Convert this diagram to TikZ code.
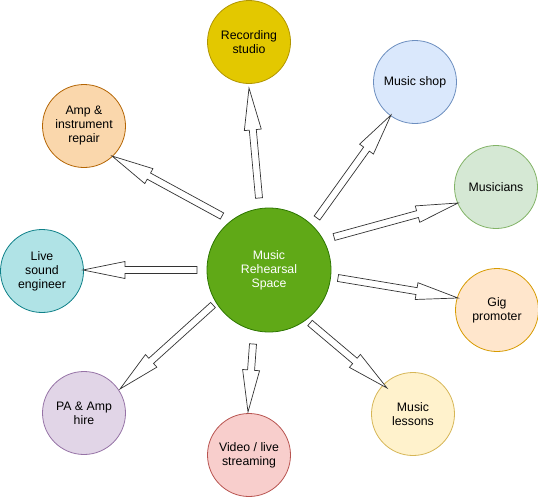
\documentclass[tikz,border=0pt]{standalone}
\usepackage{fontspec}
\setmainfont{Liberation Sans}
\usetikzlibrary{calc}
\definecolor{cFill}{HTML}{60A917}\definecolor{cLine}{HTML}{2D7600}
\definecolor{recF}{HTML}{E3C800}\definecolor{recL}{HTML}{B09500}
\definecolor{shopF}{HTML}{DAE8FC}\definecolor{shopL}{HTML}{6C8EBF}
\definecolor{ampF}{HTML}{FAD7AC}\definecolor{ampL}{HTML}{B46504}
\definecolor{liveF}{HTML}{B0E3E6}\definecolor{liveL}{HTML}{0E8088}
\definecolor{musF}{HTML}{D5E8D4}\definecolor{musL}{HTML}{82B366}
\definecolor{gigF}{HTML}{FFE6CC}\definecolor{gigL}{HTML}{D79B00}
\definecolor{lesF}{HTML}{FFF2CC}\definecolor{lesL}{HTML}{D6B656}
\definecolor{vidF}{HTML}{F8CECC}\definecolor{vidL}{HTML}{B85450}
\definecolor{paF}{HTML}{E1D5E7}\definecolor{paL}{HTML}{9673A6}
\newcommand\blockarr[2]{%
 \draw[barrow] ($(#1)!3.5pt!90:(#2)$) -- ($(#2)!42pt!(#1)!3.5pt!-90:(#1)$) -- ($(#2)!42pt!(#1)!8.5pt!-90:(#1)$) -- (#2) -- ($(#2)!42pt!(#1)!8.5pt!90:(#1)$) -- ($(#2)!42pt!(#1)!3.5pt!90:(#1)$) -- ($(#1)!3.5pt!-90:(#2)$) -- cycle;}
\begin{document}
\begin{tikzpicture}[x=1pt,y=-1pt,
  bubble/.style={circle,minimum size=83pt,inner sep=0pt,line width=0.8pt,align=center,font=\fontsize{12.3}{14}\selectfont,text=black},
  barrow/.style={draw=black!80,fill=white,line width=0.7pt,line join=miter}]
\useasboundingbox (0,0) rectangle (538,498);
\node[bubble,minimum size=124pt,fill=cFill,draw=cLine,text=white] (c) at (269,270) {Music\\Rehearsal\\Space};
\node[bubble,fill=recF,draw=recL] (rec) at (249,42) {Recording\\studio};
\node[bubble,fill=shopF,draw=shopL] (shop) at (415,82) {Music shop};
\node[bubble,fill=ampF,draw=ampL] (amp) at (84,126) {Amp \&\\instrument\\repair};
\node[bubble,fill=liveF,draw=liveL] (live) at (42,271) {Live\\sound\\engineer};
\node[bubble,fill=musF,draw=musL] (mus) at (496,187) {Musicians};
\node[bubble,fill=gigF,draw=gigL] (gig) at (497,310) {Gig\\promoter};
\node[bubble,fill=lesF,draw=lesL] (les) at (413,414) {Music\\lessons};
\node[bubble,fill=vidF,draw=vidL] (vid) at (249,455) {Video / live\\streaming};
\node[bubble,fill=paF,draw=paL] (pa) at (84,413) {PA \& Amp\\hire};
\coordinate (tRec) at (259,198); \coordinate (hRec) at (249,88);
\coordinate (tShop) at (317,218); \coordinate (hShop) at (391,115);
\coordinate (tAmp) at (222,216); \coordinate (hAmp) at (112,156);
\coordinate (tLive) at (197,270); \coordinate (hLive) at (83,270);
\coordinate (tMus) at (334,237); \coordinate (hMus) at (458,203);
\coordinate (tGig) at (338,278); \coordinate (hGig) at (458,298);
\coordinate (tLes) at (310,323); \coordinate (hLes) at (387,388);
\coordinate (tVid) at (253,344); \coordinate (hVid) at (248,412);
\coordinate (tPa) at (213,305); \coordinate (hPa) at (120,389);
\blockarr{tRec}{hRec}
\blockarr{tShop}{hShop}
\blockarr{tAmp}{hAmp}
\blockarr{tLive}{hLive}
\blockarr{tMus}{hMus}
\blockarr{tGig}{hGig}
\blockarr{tLes}{hLes}
\blockarr{tVid}{hVid}
\blockarr{tPa}{hPa}
\end{tikzpicture}
\end{document}
